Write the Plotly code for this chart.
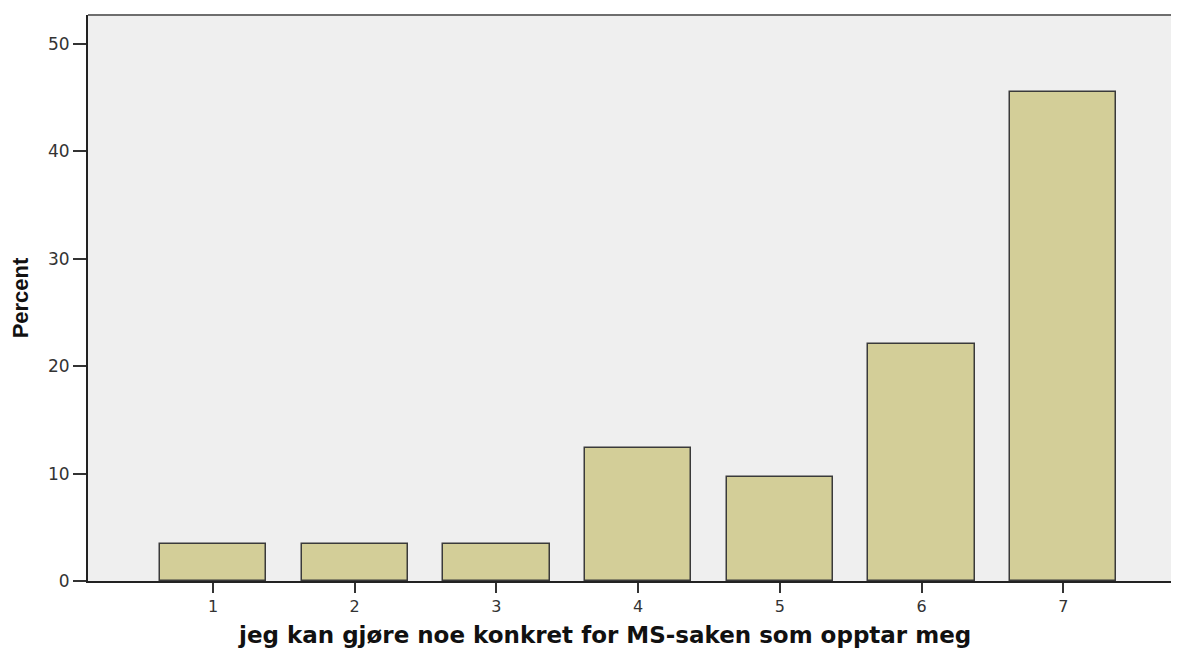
import plotly.graph_objects as go

categories = [1, 2, 3, 4, 5, 6, 7]
percent = [3.45, 3.45, 3.45, 12.41, 9.66, 22.07, 45.52]
y_ticks = [0, 10, 20, 30, 40, 50]
x_title = "jeg kan gjøre noe konkret for MS-saken som opptar meg"

fig = go.Figure()
fig.add_trace(
    go.Bar(
        x=categories,
        y=percent,
        width=0.75,
        marker=dict(color="#d3ce98", line=dict(color="#3a3a3a", width=1.5)),
        showlegend=False,
    )
)

# grey frame line along the top of the plot area
fig.add_shape(
    type="line", xref="paper", yref="paper", x0=0, x1=1, y0=1, y1=1,
    line=dict(color="#6e6e6e", width=2),
)

# x title sits a little left of the plot centre in the original
fig.add_annotation(
    text=f"<b>{x_title}</b>",
    xref="paper", yref="paper", x=0.477, y=-0.095,
    xanchor="center", yanchor="middle", showarrow=False,
    font=dict(family="DejaVu Sans", size=23, color="#111111"),
)

# page body adds an 8px margin, so the figure is sized to fit inside the window
fig.update_layout(
    width=1163,
    height=641,
    margin=dict(l=80, r=0, t=7, b=68),
    plot_bgcolor="#efefef",
    paper_bgcolor="#ffffff",
    font=dict(family="DejaVu Sans", color="#333333", size=16),
    bargap=0,
)

fig.update_xaxes(
    range=[0.118, 7.76],
    tickvals=categories,
    ticktext=[str(c) for c in categories],
    ticks="outside",
    ticklen=10,
    tickwidth=2,
    tickcolor="#333333",
    showline=True,
    linecolor="#222222",
    linewidth=2,
    showgrid=False,
    zeroline=False,
    tickfont=dict(size=16, color="#333333"),
)
fig.update_yaxes(
    range=[0, 52.7],
    tickvals=y_ticks,
    ticks="outside",
    ticklen=13,
    tickwidth=2,
    tickcolor="#333333",
    showline=True,
    linecolor="#222222",
    linewidth=2,
    showgrid=False,
    zeroline=False,
    tickfont=dict(size=17, color="#333333"),
    title=dict(
        text="<b>Percent</b>",
        font=dict(family="Liberation Sans", size=22, color="#111111"),
        standoff=14,
    ),
)

fig.write_html("out.html")
